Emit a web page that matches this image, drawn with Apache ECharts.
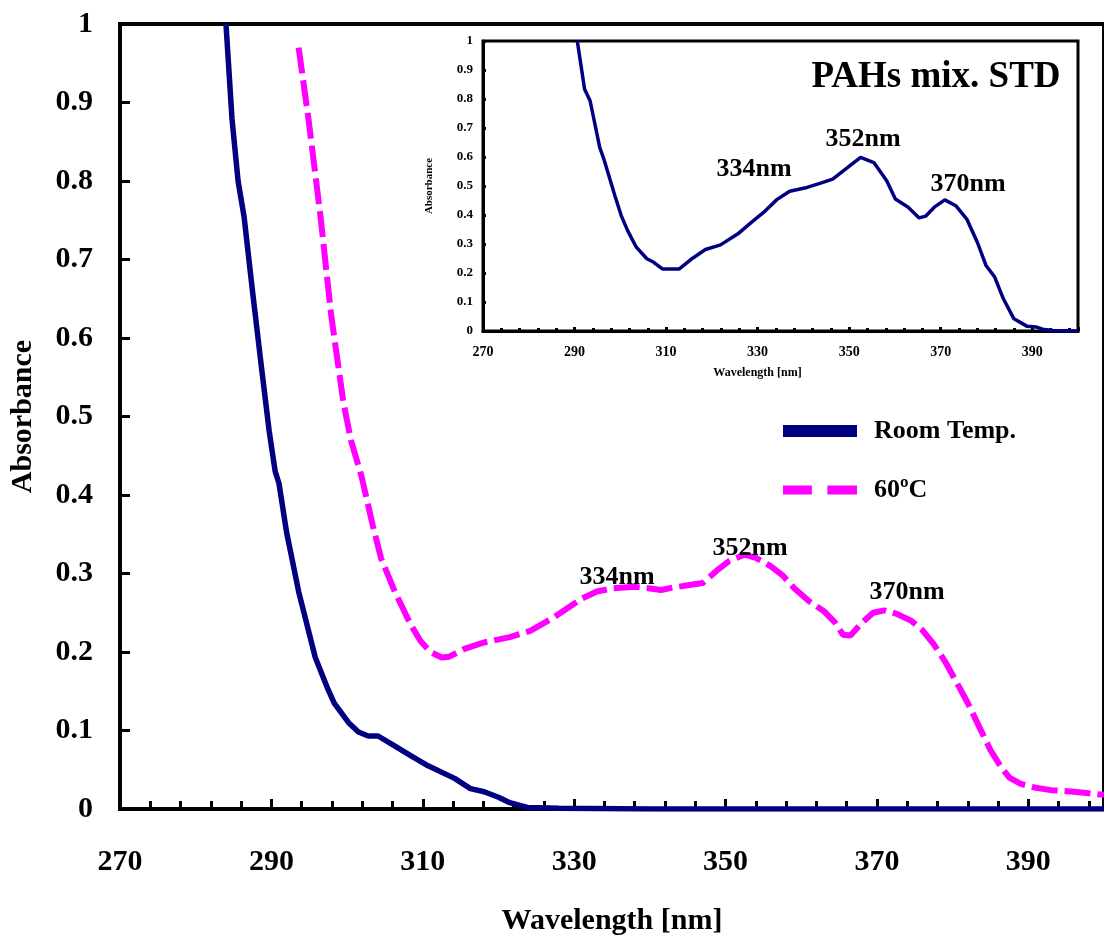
<!DOCTYPE html>
<html>
<head>
<meta charset="utf-8">
<script src="https://cdn.jsdelivr.net/npm/echarts@6/dist/echarts.min.js"></script>
<style>
html,body{margin:0;padding:0;background:#fff;}
#c{width:1104px;height:941px;}
</style>
</head>
<body>
<div id="c"></div>
<script>
// ---- Main chart data ----
const roomWl = [284.0,284.8,285.6,286.4,287.5,288.6,289.7,290.5,291.0,292.0,293.6,295.8,297.5,298.3,300.2,301.5,302.8,304.1,306.0,308.4,310.7,314.2,316.3,318.1,320.0,321.5,323.8,328,340,360,380,400];
const roomAbs = [1.000,0.879,0.80,0.754,0.66,0.57,0.482,0.43,0.415,0.353,0.277,0.193,0.152,0.135,0.110,0.098,0.093,0.093,0.082,0.068,0.055,0.039,0.026,0.022,0.015,0.008,0.002,0.001,0,0,0,0];

const hotWl = [293.6,294.9,296.5,297.9,299.5,300.5,301.9,303.4,304.5,306.3,308.4,309.7,311.0,312.5,313.5,315.5,318,321.5,324.2,327.3,329,331,333,335,338,340,341.5,343,345,347,349,350.5,352.5,354,356,357.5,359,361,363,364.5,365.5,366.5,368,369.5,371,372.5,374.5,376,377.5,379,380.5,382,383.5,385,386.5,387.5,389,391,393,396,398,400];
const hotAbs = [0.970,0.879,0.754,0.629,0.519,0.47,0.424,0.361,0.319,0.277,0.235,0.214,0.200,0.193,0.194,0.204,0.212,0.219,0.227,0.244,0.255,0.268,0.277,0.281,0.283,0.281,0.279,0.282,0.285,0.288,0.305,0.316,0.324,0.320,0.309,0.298,0.282,0.265,0.252,0.237,0.222,0.221,0.237,0.250,0.253,0.249,0.240,0.228,0.210,0.188,0.162,0.135,0.105,0.075,0.052,0.040,0.032,0.027,0.024,0.022,0.020,0.018];

// ---- Inset data (PAHs mix. STD) ----
const stdWl = [290.6,292.2,293.4,295.5,296.4,298.8,300.2,301.6,303.5,305.8,307.3,309.2,312.9,315.8,318.6,321.9,325.7,328.5,331.3,334.2,337.0,340.8,343.6,346.4,349.2,352.5,355.4,358.2,360.1,362.9,365.3,366.7,368.6,370.9,373.3,375.7,378.0,379.9,381.8,383.7,386.0,388.9,390.8,392.6,394.5,400];
const stdAbs = [1.0,0.834,0.794,0.633,0.593,0.467,0.398,0.346,0.289,0.249,0.237,0.214,0.214,0.251,0.281,0.297,0.335,0.373,0.409,0.453,0.482,0.495,0.509,0.524,0.558,0.599,0.581,0.518,0.455,0.427,0.390,0.396,0.427,0.452,0.432,0.386,0.306,0.226,0.186,0.111,0.042,0.016,0.014,0.005,0.002,0];

const seriesNames = ['Room Temp.', '60ºC'];
const peakLabels = ['334nm', '352nm', '370nm'];
const insetTitle = 'PAHs mix. STD';

const zip = (a, b) => a.map((v, i) => [v, b[i]]);
const FF = "'Liberation Serif','Times New Roman',serif";
const BLUE = '#000080', MAG = '#FF00FF';

const chart = echarts.init(document.getElementById('c'), null, {renderer: 'canvas'});

function txt(text, x, y, size) {
  return {type: 'text', x: x, y: y, z: 100,
    style: {text: text, fontFamily: FF, fontWeight: 'bold', fontSize: size, fill: '#000',
      align: 'center', verticalAlign: 'middle', textAlign: 'center', textVerticalAlign: 'middle'}};
}

chart.setOption({
  animation: false,
  backgroundColor: '#fff',
  grid: [
    {left: 120, top: 24, width: 992, height: 797, show: true, borderColor: '#000', borderWidth: 4, backgroundColor: 'transparent'},
    {left: 483, top: 41, width: 595, height: 290, show: true, borderColor: '#000', borderWidth: 3, backgroundColor: '#fff', z: 5}
  ],
  xAxis: [
    {gridIndex: 0, type: 'value', min: 270, max: 400, interval: 20,
     axisLine: {show: true, onZero: false, lineStyle: {color: '#000', width: 4}},
     axisTick: {show: true, inside: true, length: 10, lineStyle: {color: '#000', width: 3}},
     minorTick: {show: true, splitNumber: 5, length: 8, lineStyle: {color: '#000', width: 3}},
     splitLine: {show: false},
     axisLabel: {margin: 38, color: '#000', fontFamily: FF, fontWeight: 'bold', fontSize: 30, showMaxLabel: false},
     name: 'Wavelength [nm]', nameLocation: 'middle', nameGap: 112,
     nameTextStyle: {color: '#000', fontFamily: FF, fontWeight: 'bold', fontSize: 30, verticalAlign: 'middle'}},
    {gridIndex: 1, type: 'value', min: 270, max: 400, interval: 20, z: 6,
     axisLine: {show: true, onZero: false, lineStyle: {color: '#000', width: 3}},
     axisTick: {show: true, inside: true, length: 4, lineStyle: {color: '#000', width: 3}},
     minorTick: {show: true, splitNumber: 5, length: 3, lineStyle: {color: '#000', width: 3}},
     splitLine: {show: false},
     axisLabel: {margin: 14, color: '#000', fontFamily: FF, fontWeight: 'bold', fontSize: 14, showMaxLabel: false},
     name: 'Wavelength [nm]', nameLocation: 'middle', nameGap: 42,
     nameTextStyle: {color: '#000', fontFamily: FF, fontWeight: 'bold', fontSize: 12, verticalAlign: 'middle', padding: [0, 46, 0, 0]}},
  ],
  yAxis: [
    {gridIndex: 0, type: 'value', min: 0, max: 1, interval: 0.1,
     axisLine: {show: true, onZero: false, lineStyle: {color: '#000', width: 4}},
     axisTick: {show: true, inside: true, length: 10, lineStyle: {color: '#000', width: 3}},
     splitLine: {show: false},
     axisLabel: {margin: 27, color: '#000', fontFamily: FF, fontWeight: 'bold', fontSize: 30},
     name: 'Absorbance', nameLocation: 'middle', nameGap: 97, nameRotate: 90,
     nameTextStyle: {color: '#000', fontFamily: FF, fontWeight: 'bold', fontSize: 30, verticalAlign: 'middle'}},
    {gridIndex: 1, type: 'value', min: 0, max: 1, interval: 0.1, z: 6,
     axisLine: {show: true, onZero: false, lineStyle: {color: '#000', width: 3}},
     axisTick: {show: true, inside: true, length: 3, lineStyle: {color: '#000', width: 3}},
     splitLine: {show: false},
     axisLabel: {margin: 10, color: '#000', fontFamily: FF, fontWeight: 'bold', fontSize: 13},
     name: 'Absorbance', nameLocation: 'middle', nameGap: 54, nameRotate: 90,
     nameTextStyle: {color: '#000', fontFamily: FF, fontWeight: 'bold', fontSize: 11, verticalAlign: 'middle'}}
  ],
  legend: {
    orient: 'vertical', left: 778, top: 413, itemWidth: 74, itemHeight: 12, itemGap: 33,
    selectedMode: false,
    textStyle: {color: '#000', fontFamily: FF, fontWeight: 'bold', fontSize: 26, padding: [0, 0, 0, 12]},
    data: [
      {name: seriesNames[0], icon: 'rect', itemStyle: {color: BLUE}},
      {name: seriesNames[1], icon: 'path://M0,0H39V12H0Z M60,0H100V12H60Z', itemStyle: {color: MAG}}
    ]
  },
  series: [
    {name: seriesNames[1], type: 'line', xAxisIndex: 0, yAxisIndex: 0, data: zip(hotWl, hotAbs),
     showSymbol: false, symbol: 'none', smooth: false, z: 3,
     lineStyle: {color: MAG, width: 6, type: [26, 7], cap: 'butt'}, itemStyle: {color: MAG}},
    {name: seriesNames[0], type: 'line', xAxisIndex: 0, yAxisIndex: 0, data: zip(roomWl, roomAbs),
     showSymbol: false, symbol: 'none', smooth: false, z: 4,
     lineStyle: {color: BLUE, width: 5.5}, itemStyle: {color: BLUE}},
    {name: 'STD', type: 'line', xAxisIndex: 1, yAxisIndex: 1, data: zip(stdWl, stdAbs),
     showSymbol: false, symbol: 'none', smooth: false, z: 7,
     lineStyle: {color: BLUE, width: 3.5}, itemStyle: {color: BLUE}}
  ],
  graphic: [
    txt(peakLabels[0], 617, 577, 26),
    txt(peakLabels[1], 750, 548, 26),
    txt(peakLabels[2], 907, 592, 26),
    txt(peakLabels[0], 754, 169, 26),
    txt(peakLabels[1], 863, 139, 26),
    txt(peakLabels[2], 968, 184, 26),
    txt(insetTitle, 936, 77, 37)
  ]
});
</script>
</body>
</html>
